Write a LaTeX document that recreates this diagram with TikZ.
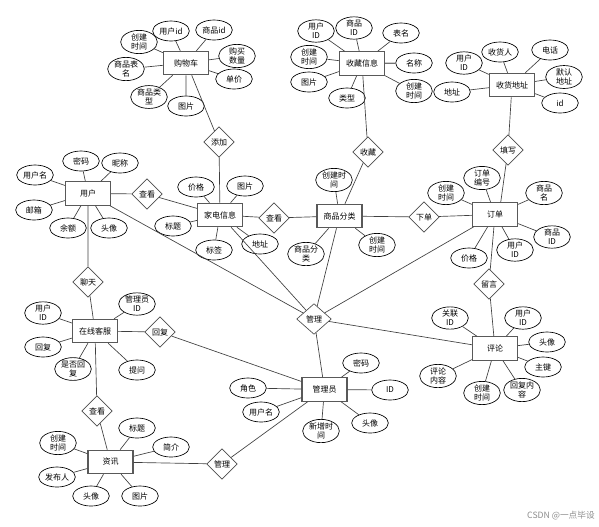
\documentclass[tikz,border=0pt]{standalone}
\usepackage{fontspec}
\newfontfamily\cjk{Noto Sans CJK SC}
\usetikzlibrary{shapes.geometric}

\tikzset{
  ent/.style={draw=black!65, line width=0.9pt, rectangle, minimum width=33.75pt, minimum height=17.5pt, inner sep=0pt, font=\cjk\fontsize{6}{7}\selectfont},
  att/.style={draw, ellipse, line width=0.5pt, minimum width=27.5pt, minimum height=15pt, inner sep=0pt, align=center, font=\cjk\fontsize{6}{6.8}\selectfont},
  rel/.style={draw=black!70, diamond, line width=0.5pt, minimum width=23pt, minimum height=23pt, inner sep=0pt, font=\cjk\fontsize{6}{7}\selectfont},
  lnk/.style={draw=black!75, line width=0.5pt}
}

\begin{document}
\begin{tikzpicture}[x=0.75pt,y=0.75pt,yscale=-1,xscale=1]
\useasboundingbox (0,0) rectangle (599,526);
%Entities
\node [ent] (gwc) at (186,63) {购物车};
\node [ent] (scxx) at (362,63.5) {收藏信息};
\node [ent] (shdz) at (512,85) {收货地址};
\node [ent] (yh) at (88,193.5) {用户};
\node [ent] (jdxx) at (220,215) {家电信息};
\node [ent] (spfl) at (339.5,216) {商品分类};
\node [ent] (dd) at (495,214.5) {订单};
\node [ent] (zxkf) at (95,331) {在线客服};
\node [ent] (gly) at (324.5,389.5) {管理员};
\node [ent] (pl) at (495,348.5) {评论};
\node [ent] (zx) at (110.5,462) {资讯};
%Relations
\node [rel] (tj) at (219,142) {添加};
\node [rel] (sc) at (368,152) {收藏};
\node [rel] (tx) at (508,150) {填写};
\node [rel] (ck1) at (147,194) {查看};
\node [rel] (ck2) at (274,218) {查看};
\node [rel] (xd) at (424,217) {下单};
\node [rel] (lt) at (88,282) {聊天};
\node [rel] (hf) at (160,332) {回复};
\node [rel, minimum width=26pt] (gl1) at (314,319) {管理};
\node [rel] (ly) at (489,284) {留言};
\node [rel] (ck3) at (97,411) {查看};
\node [rel] (gl2) at (222,464) {管理};
%Attributes of 购物车
\node [att] (gwc1) at (139,42) {创建\\时间};
\node [att] (gwc2) at (171,31) {用户id};
\node [att] (gwc3) at (214,30) {商品id};
\node [att] (gwc4) at (237,56) {购买\\数量};
\node [att] (gwc5) at (234,79) {单价};
\node [att] (gwc6) at (126,69) {商品表\\名};
\node [att] (gwc7) at (149,97) {商品类\\型};
\node [att] (gwc8) at (186,106) {图片};
%Attributes of 收藏信息
\node [att] (scxx1) at (316,31) {用户\\ID};
\node [att] (scxx2) at (354,28) {商品\\ID};
\node [att] (scxx3) at (401,33) {表名};
\node [att] (scxx4) at (309,57) {创建\\时间};
\node [att] (scxx5) at (414,63) {名称};
\node [att] (scxx6) at (309,82) {图片};
\node [att] (scxx7) at (347,98) {类型};
\node [att] (scxx8) at (414,91) {创建\\时间};
%Attributes of 收货地址
\node [att] (shdz1) at (464,63) {用户\\ID};
\node [att] (shdz2) at (500,52) {收货人};
\node [att] (shdz3) at (550,50) {电话};
\node [att] (shdz4) at (564,77) {默认\\地址};
\node [att] (shdz5) at (452,92) {地址};
\node [att] (shdz6) at (560,103) {id};
%Attributes of 用户
\node [att] (yh1) at (35,175) {用户名};
\node [att] (yh2) at (81,161) {密码};
\node [att] (yh3) at (120,163) {昵称};
\node [att] (yh4) at (34,210) {邮箱};
\node [att] (yh5) at (68,228) {余额};
\node [att] (yh6) at (109,228) {头像};
%Attributes of 家电信息
\node [att] (jdxx1) at (196,187) {价格};
\node [att] (jdxx2) at (245,186) {图片};
\node [att] (jdxx3) at (173,226) {标题};
\node [att] (jdxx4) at (214,250) {标签};
\node [att] (jdxx5) at (260,244) {地址};
%Attributes of 商品分类
\node [att] (spfl1) at (334,180) {创建时\\间};
\node [att] (spfl2) at (306,254) {商品分\\类};
\node [att] (spfl3) at (377,245) {创建\\时间};
%Attributes of 订单
\node [att] (dd1) at (482,178) {订单\\编号};
\node [att] (dd2) at (446,193) {创建\\时间};
\node [att] (dd3) at (544,193) {商品\\名};
\node [att] (dd4) at (552,237) {商品\\ID};
\node [att] (dd5) at (515,250) {用户\\ID};
\node [att] (dd6) at (469,258) {价格};
%Attributes of 在线客服
\node [att] (zxkf1) at (43,313) {用户\\ID};
\node [att] (zxkf2) at (137,304) {管理员\\ID};
\node [att] (zxkf3) at (43,347) {回复};
\node [att] (zxkf4) at (73,369) {是否回\\复};
\node [att] (zxkf5) at (137,370) {提问};
%Attributes of 管理员
\node [att] (gly1) at (361,363) {密码};
\node [att] (gly2) at (248,388) {角色};
\node [att] (gly3) at (390,390) {ID};
\node [att] (gly4) at (261,412) {用户名};
\node [att] (gly5) at (370,423) {头像};
\node [att] (gly6) at (321,431) {新增时\\间};
%Attributes of 评论
\node [att] (pl1) at (450,318) {关联\\ID};
\node [att] (pl2) at (523,318) {用户\\ID};
\node [att] (pl3) at (547,342) {头像};
\node [att] (pl4) at (543,367) {主键};
\node [att] (pl5) at (438,376) {评论\\内容};
\node [att] (pl6) at (482,393) {创建\\时间};
\node [att] (pl7) at (522,390) {回复内\\容};
%Attributes of 资讯
\node [att] (zx1) at (58,443) {创建\\时间};
\node [att] (zx2) at (137,428) {标题};
\node [att] (zx3) at (171,447) {简介};
\node [att] (zx4) at (57,477) {发布人};
\node [att] (zx5) at (91,496) {头像};
\node [att] (zx6) at (140,496) {图片};
%Attribute lines
\path [lnk] (gwc) -- (gwc1) (gwc) -- (gwc2) (gwc) -- (gwc3) (gwc) -- (gwc4) (gwc) -- (gwc5) (gwc) -- (gwc6) (gwc) -- (gwc7) (gwc) -- (gwc8);
\path [lnk] (scxx) -- (scxx1) (scxx) -- (scxx2) (scxx) -- (scxx3) (scxx) -- (scxx4) (scxx) -- (scxx6) (scxx) -- (scxx7) (scxx) -- (scxx8);
\path [lnk, line width=1pt, draw=black!55] (scxx) -- (scxx5);
\path [lnk] (shdz) -- (shdz1) (shdz) -- (shdz2) (shdz) -- (shdz3) (shdz) -- (shdz4) (shdz) -- (shdz5) (shdz) -- (shdz6);
\path [lnk] (yh) -- (yh1) (yh) -- (yh2) (yh) -- (yh3) (yh) -- (yh4) (yh) -- (yh5) (yh) -- (yh6);
\path [lnk] (jdxx) -- (jdxx1) (jdxx) -- (jdxx2) (jdxx) -- (jdxx3) (jdxx) -- (jdxx4) (jdxx) -- (jdxx5);
\path [lnk] (spfl) -- (spfl1) (spfl) -- (spfl2) (spfl) -- (spfl3);
\path [lnk] (dd) -- (dd1) (dd) -- (dd2) (dd) -- (dd3) (dd) -- (dd4) (dd) -- (dd5) (dd) -- (dd6);
\path [lnk] (zxkf) -- (zxkf1) (zxkf) -- (zxkf2) (zxkf) -- (zxkf3) (zxkf) -- (zxkf4) (zxkf) -- (zxkf5);
\path [lnk] (gly) -- (gly1) (gly) -- (gly2) (gly) -- (gly3) (gly) -- (gly4) (gly) -- (gly5) (gly) -- (gly6);
\path [lnk] (pl) -- (pl1) (pl) -- (pl2) (pl) -- (pl3) (pl) -- (pl4) (pl) -- (pl5) (pl) -- (pl6) (pl) -- (pl7);
\path [lnk] (zx) -- (zx1) (zx) -- (zx2) (zx) -- (zx3) (zx) -- (zx4) (zx) -- (zx5) (zx) -- (zx6);
%Relation lines
\path [lnk] (gwc.-65) -- (tj) -- (jdxx);
\path [lnk] (scxx) -- (sc) -- (spfl);
\path [lnk] (shdz) -- (tx) -- (dd.65);
\path [lnk] (yh) -- (ck1) -- (jdxx);
\path [lnk] (jdxx) -- (ck2) -- (spfl);
\path [lnk] (spfl) -- (xd) -- (dd);
\path [lnk] (yh) -- (lt) -- (zxkf);
\path [lnk] (zxkf) -- (hf) -- (gly);
\path [lnk] (zxkf) -- (ck3) -- (zx);
\path [lnk] (zx) -- (gl2) -- (gly);
\path [lnk] (dd) -- (ly) -- (pl);
\path [lnk] (yh) -- (gl1) (jdxx) -- (gl1) (spfl) -- (gl1) (dd) -- (gl1) (gl1) -- (pl) (gl1) -- (gly);
% Text Node
\node [font=\cjk\fontsize{6.5}{7}\selectfont, text=black!45, anchor=east, inner sep=0pt] (wm) at (595,516) {CSDN @一点毕设};
\end{tikzpicture}
\end{document}
